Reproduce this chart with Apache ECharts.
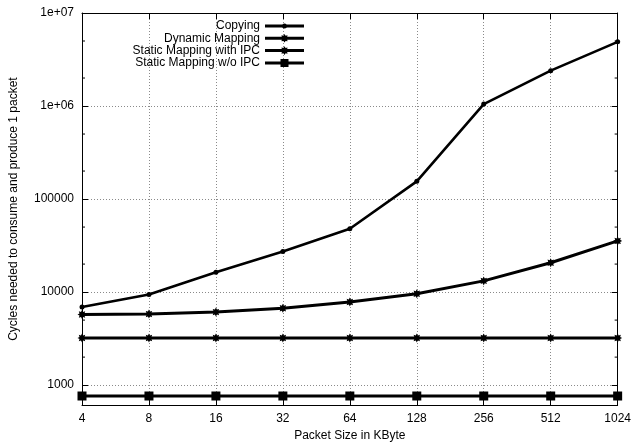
<!DOCTYPE html>
<html>
<head>
<meta charset="utf-8">
<script src="https://cdn.jsdelivr.net/npm/echarts@6/dist/echarts.min.js"></script>
<style>
html,body{margin:0;padding:0;background:#fff;}
#c{width:634px;height:447px;}
</style>
</head>
<body>
<div id="c"></div>
<script>
const packetSizes = [4, 8, 16, 32, 64, 128, 256, 512, 1024];
const copying = [6900, 9400, 16300, 27300, 48000, 155000, 1050000, 2400000, 4900000];
const dynamicMapping = [5750, 5800, 6100, 6700, 7830, 9600, 13200, 20700, 35500];
const staticWithIPC = [3210, 3210, 3210, 3210, 3210, 3210, 3210, 3210, 3210];
const staticWithoutIPC = [764, 764, 764, 764, 764, 764, 764, 764, 764];
const minorTickValues = [2000, 5000, 20000, 50000, 200000, 500000, 2000000, 5000000];
const seriesNames = ['Copying', 'Dynamic Mapping', 'Static Mapping with IPC', 'Static Mapping w/o IPC'];

const FONT = 'Liberation Sans, Arial, Helvetica, sans-serif';

function starPts(cx, cy, R, r) {
  let pts = [];
  for (let i = 0; i < 16; i++) {
    const a = i * Math.PI / 8;
    const rr = i % 2 === 0 ? R : r;
    pts.push((cx + rr * Math.cos(a)).toFixed(2) + ',' + (cy + rr * Math.sin(a)).toFixed(2));
  }
  return 'M' + pts.join('L') + 'Z';
}
const STAR = 'path://' + starPts(0, 0, 10, 6);

// legend icons: line sample with marker, drawn at true size (keep aspect)
const ICON_COPY = 'path://M0,1L39,1L39,4L0,4Z M17,2.5A2.5,2.5,0,1,1,22,2.5A2.5,2.5,0,1,1,17,2.5Z';
const ICON_STAR = 'path://M0,2.5L39,2.5L39,5.5L0,5.5Z ' + starPts(19.5, 4, 4.3, 2.8);
const ICON_SQUARE = 'path://M0,2.5L39,2.5L39,5.5L0,5.5Z M15.5,0L23.5,0L23.5,8L15.5,8Z';

function pair(xs, ys) { return xs.map((x, i) => [x, ys[i]]); }

function yFmt(v) {
  const e = Math.log10(v);
  if (Math.abs(e - Math.round(e)) > 1e-6) return '';
  const r = Math.round(e);
  return r >= 6 ? '1e+0' + r : String(Math.round(v));
}

const gridLine = { show: true, lineStyle: { color: '#8a8a8a', type: [1, 2], width: 1 } };

const xBase = {
  type: 'log', logBase: 2, min: 4, max: 1024, splitNumber: 8,
  axisLine: { show: true, lineStyle: { color: '#000', width: 1 } },
  axisTick: { show: true, inside: true, length: 6, lineStyle: { color: '#000' } },
  minorTick: { show: false }
};
const yBase = {
  type: 'log', logBase: 10, min: 610, max: 10000000, splitNumber: 5,
  axisLine: { show: true, lineStyle: { color: '#000', width: 1 } },
  axisTick: { show: true, inside: true, length: 6, lineStyle: { color: '#000' } }
};

const chart = echarts.init(document.getElementById('c'), null, { renderer: 'canvas' });

const lineCommon = {
  type: 'line', xAxisIndex: 0, yAxisIndex: 0,
  lineStyle: { color: '#000', width: 3 },
  itemStyle: { color: '#000', borderWidth: 0 },
  emphasis: { disabled: true },
  animation: false
};

chart.setOption({
  animation: false,
  textStyle: { fontFamily: FONT },
  grid: { left: 81, right: 12, top: 13, bottom: 39, containLabel: false },
  legend: {
    orient: 'vertical',
    right: 325,
    top: 15,
    align: 'right',
    itemWidth: 39,
    itemHeight: 11,
    itemGap: 0.3,
    symbolKeepAspect: true,
    itemStyle: { color: '#000', borderWidth: 0 },
    textStyle: { fontSize: 12, color: '#000', fontFamily: FONT, lineHeight: 11 },
    data: [
      { name: seriesNames[0], icon: ICON_COPY },
      { name: seriesNames[1], icon: ICON_STAR },
      { name: seriesNames[2], icon: ICON_STAR },
      { name: seriesNames[3], icon: ICON_SQUARE }
    ],
    selectedMode: false
  },
  xAxis: [
    Object.assign({}, xBase, {
      position: 'bottom',
      name: 'Packet Size in KByte', nameLocation: 'middle', nameGap: 23,
      nameTextStyle: { fontSize: 12, color: '#000', fontFamily: FONT },
      axisLabel: { show: true, margin: 8, fontSize: 12, color: '#000', fontFamily: FONT, formatter: v => String(Math.round(v)) },
      splitLine: gridLine
    }),
    Object.assign({}, xBase, {
      position: 'top',
      axisLabel: { show: false },
      splitLine: { show: false }
    })
  ],
  yAxis: [
    Object.assign({}, yBase, {
      position: 'left',
      name: 'Cycles needed to consume and produce 1 packet', nameLocation: 'middle', nameGap: 62,
      nameTextStyle: { fontSize: 12, color: '#000', fontFamily: FONT },
      axisLabel: { show: true, margin: 8, fontSize: 12, color: '#000', fontFamily: FONT, formatter: yFmt },
      splitLine: gridLine
    }),
    Object.assign({}, yBase, {
      position: 'right',
      axisLabel: { show: false },
      splitLine: { show: false }
    })
  ],
  series: [
    {
      type: 'custom', xAxisIndex: 0, yAxisIndex: 0, silent: true, z: 1,
      data: minorTickValues.map(v => [4, v]),
      renderItem: function (params, api) {
        const v = api.value(1);
        const l = api.coord([4, v]);
        const r = api.coord([1024, v]);
        return {
          type: 'group',
          children: [
            { type: 'line', shape: { x1: l[0], y1: l[1], x2: l[0] + 3, y2: l[1] }, style: { stroke: '#000', lineWidth: 1 } },
            { type: 'line', shape: { x1: r[0] - 3, y1: r[1], x2: r[0], y2: r[1] }, style: { stroke: '#000', lineWidth: 1 } }
          ]
        };
      }
    },
    Object.assign({}, lineCommon, { name: seriesNames[0], data: pair(packetSizes, copying), symbol: 'circle', symbolSize: 5, lineStyle: { color: '#000', width: 2.6 }, z: 5 }),
    Object.assign({}, lineCommon, { name: seriesNames[1], data: pair(packetSizes, dynamicMapping), symbol: STAR, symbolSize: 9, z: 4 }),
    Object.assign({}, lineCommon, { name: seriesNames[2], data: pair(packetSizes, staticWithIPC), symbol: STAR, symbolSize: 9, z: 3 }),
    Object.assign({}, lineCommon, { name: seriesNames[3], data: pair(packetSizes, staticWithoutIPC), symbol: 'rect', symbolSize: 9, z: 2 })
  ]
});
</script>
</body>
</html>
